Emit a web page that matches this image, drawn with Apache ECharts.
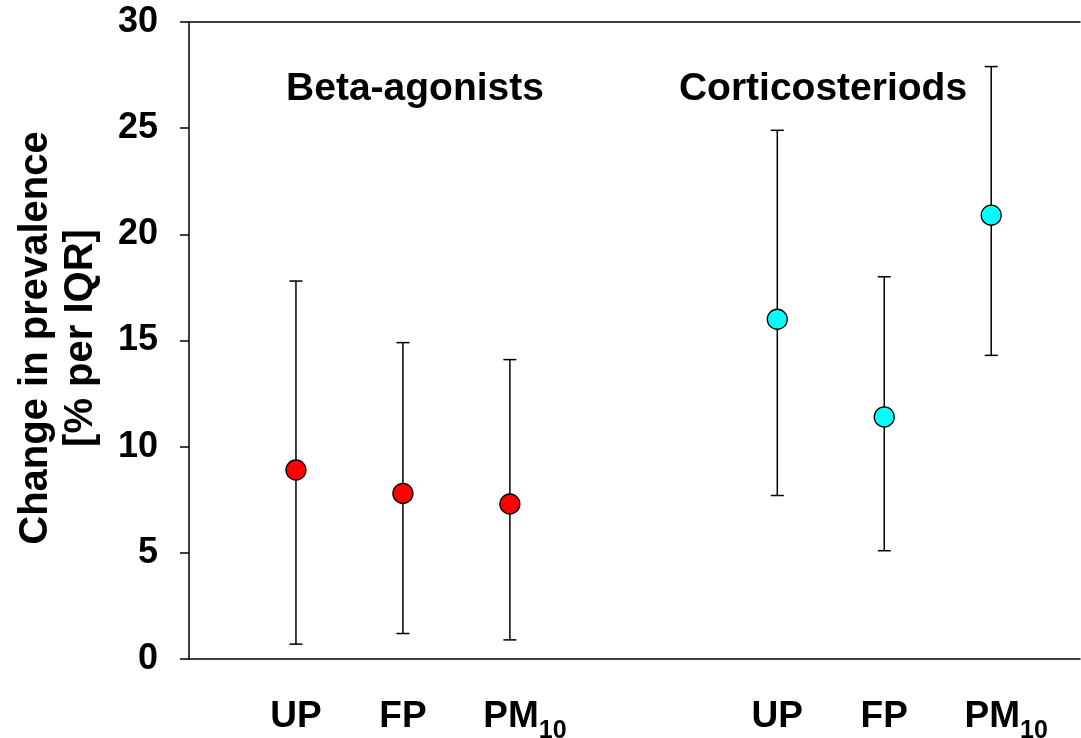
<!DOCTYPE html>
<html>
<head>
<meta charset="utf-8">
<title>Change in prevalence per IQR</title>
<script src="https://cdn.jsdelivr.net/npm/echarts@6/dist/echarts.min.js"></script>
<style>
  html, body { margin: 0; padding: 0; background: #fff; }
  #chart { width: 1081px; height: 738px; }
</style>
</head>
<body>
<div id="chart"></div>
<script>
// Medication groups and pollutant categories
var groups = ['Beta-agonists', 'Corticosteriods'];
var pollutants = ['UP', 'FP', 'PM10'];

// Point estimates and 95% confidence limits (% change per IQR)
var betaEstimate = [8.9, 7.8, 7.3];
var betaLower    = [0.7, 1.2, 0.9];
var betaUpper    = [17.8, 14.9, 14.1];

var cortEstimate = [16.0, 11.4, 20.9];
var cortLower    = [7.7, 5.1, 14.3];
var cortUpper    = [24.9, 18.0, 27.9];

// Y axis ticks
var yTicks = [0, 5, 10, 15, 20, 25, 30];

var FONT = '"Liberation Sans", Arial, Helvetica, sans-serif';

// Horizontal slot of each point: groups separated by a wider gap
function slot(g, i) { return g * 4.5 + i + 1; }

var labelByValue = {};
var tickValues = [];
groups.forEach(function (g, gi) {
  pollutants.forEach(function (p, pi) {
    var v = slot(gi, pi);
    tickValues.push(v);
    labelByValue[v.toFixed(2)] = p;
  });
});

function points(gi, est) {
  return est.map(function (v, i) { return [slot(gi, i), v]; });
}
function bars(gi, lo, hi) {
  return lo.map(function (v, i) { return [slot(gi, i), v, hi[i]]; });
}

var errorData = bars(0, betaLower, betaUpper).concat(bars(1, cortLower, cortUpper));

function renderErrorBar(params, api) {
  var x = api.value(0);
  var lo = api.coord([x, api.value(1)]);
  var hi = api.coord([x, api.value(2)]);
  var half = 6.5;
  var style = { stroke: '#000', lineWidth: 1.5, fill: null };
  return {
    type: 'group',
    children: [
      { type: 'line', shape: { x1: lo[0], y1: lo[1], x2: hi[0], y2: hi[1] }, style: style },
      { type: 'line', shape: { x1: lo[0] - half, y1: lo[1], x2: lo[0] + half, y2: lo[1] }, style: style },
      { type: 'line', shape: { x1: hi[0] - half, y1: hi[1], x2: hi[0] + half, y2: hi[1] }, style: style }
    ]
  };
}

var chart = echarts.init(document.getElementById('chart'), null, { renderer: 'canvas' });

var richLabel = {
  n:   { fontFamily: FONT, fontWeight: 'bold', fontSize: 37, color: '#000', lineHeight: 40, verticalAlign: 'top' },
  gap: { width: 30, lineHeight: 40 },
  sub: { fontFamily: FONT, fontWeight: 'bold', fontSize: 25, color: '#000', lineHeight: 24, padding: [21, 0, 0, 0], verticalAlign: 'top' }
};

var option = {
  animation: false,
  backgroundColor: '#fff',
  grid: { left: 189, right: 1, top: 22, bottom: 79, outerBoundsMode: 'none', containLabel: false },
  xAxis: [
    {
      type: 'value',
      min: 0,
      max: 8.33,
      position: 'bottom',
      splitLine: { show: false },
      axisTick: { show: false },
      axisLine: { show: true, lineStyle: { color: '#000', width: 1.5 } },
      axisLabel: {
        customValues: tickValues,
        margin: 39,
        formatter: function (v) {
          var name = labelByValue[Number(v).toFixed(2)] || '';
          if (name === 'PM10') return '{gap|}{n|PM}{sub|10}';
          return '{n|' + name + '}';
        },
        rich: richLabel
      }
    },
    {
      type: 'value',
      min: 0,
      max: 8.33,
      position: 'top',
      splitLine: { show: false },
      axisTick: { show: false },
      axisLabel: { show: false },
      axisLine: { show: true, lineStyle: { color: '#000', width: 1.5 } }
    }
  ],
  yAxis: {
    type: 'value',
    min: yTicks[0],
    max: yTicks[yTicks.length - 1],
    interval: 5,
    splitLine: { show: false },
    axisLine: { show: true, lineStyle: { color: '#000', width: 1.5 } },
    axisTick: { show: true, inside: false, length: 9, lineStyle: { color: '#000', width: 1.5 } },
    axisLabel: {
      margin: 31,
      color: '#000',
      fontFamily: FONT,
      fontWeight: 'bold',
      fontSize: 36
    }
  },
  series: [
    {
      type: 'custom',
      name: 'CI',
      xAxisIndex: 0,
      renderItem: renderErrorBar,
      encode: { x: 0, y: [1, 2] },
      data: errorData,
      z: 2
    },
    {
      type: 'scatter',
      name: groups[0],
      xAxisIndex: 0,
      symbol: 'circle',
      symbolSize: 20,
      itemStyle: { color: '#FF0000', borderColor: '#000', borderWidth: 1.3, opacity: 1 },
      data: points(0, betaEstimate),
      z: 3
    },
    {
      type: 'scatter',
      name: groups[1],
      xAxisIndex: 0,
      symbol: 'circle',
      symbolSize: 20,
      itemStyle: { color: '#00FFFF', borderColor: '#000', borderWidth: 1.3, opacity: 1 },
      data: points(1, cortEstimate),
      z: 3
    }
  ],
  graphic: [
    {
      type: 'text',
      x: 415, y: 89,
      style: {
        text: groups[0],
        fill: '#000',
        font: 'bold 39px ' + FONT,
        textAlign: 'center',
        textVerticalAlign: 'middle'
      }
    },
    {
      type: 'text',
      x: 823, y: 89,
      style: {
        text: groups[1],
        fill: '#000',
        font: 'bold 39px ' + FONT,
        textAlign: 'center',
        textVerticalAlign: 'middle'
      }
    },
    {
      type: 'text',
      x: 58, y: 338,
      rotation: Math.PI / 2,
      style: {
        text: 'Change in prevalence\n[% per IQR]',
        fill: '#000',
        font: 'bold 40px ' + FONT,
        lineHeight: 45,
        textAlign: 'center',
        textVerticalAlign: 'middle'
      }
    }
  ]
};

chart.setOption(option);
</script>
</body>
</html>
